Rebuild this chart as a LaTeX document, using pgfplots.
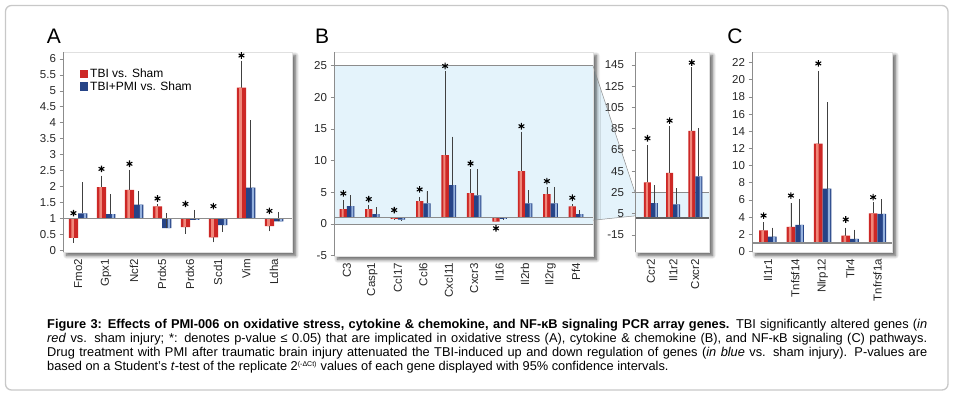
\documentclass[border=0pt]{standalone}
\usepackage{pgfplots}
\pgfplotsset{compat=1.18}
\usepackage{pgfplotstable}
\usepackage{fontspec}
\setmainfont{Liberation Sans}
\usetikzlibrary{shadows.blur}
\pgfdeclarelayer{bg}
\pgfsetlayers{bg,main}

\definecolor{redbar}{RGB}{205,40,38}
\definecolor{redhi}{RGB}{240,135,122}
\definecolor{bluebar}{RGB}{38,68,135}
\definecolor{bluehi}{RGB}{150,178,222}
\definecolor{zoomblue}{RGB}{228,243,251}
\definecolor{axgray}{RGB}{140,140,140}
\definecolor{framegray}{RGB}{200,200,200}

% x = category, r/b = fold change (red: TBI vs Sham, blue: TBI+PMI vs Sham)
% rp/rm, bp/bm = confidence-interval line above/below the bar end, s = asterisk height
\pgfplotstableread{
x r rp rm b bp bm s
0 0.38 0    0.15 1.15 0.98 0    1.16
1 1.98 0.36 0    1.13 0.63 0    2.55
2 1.89 0.64 0    1.43 0.43 0    2.71
3 1.37 0.08 0    0.69 0.46 0    1.62
4 0.72 0    0.20 0.95 0.31 0    1.45
5 0.40 0    0.16 0.78 0    0.20 1.38
6 5.10 0.85 0    1.96 2.11 0    6.11
7 0.75 0    0.16 0.90 0.30 0    1.23
}\dataA

\pgfplotstableread{
x r rp rm b bp bm s
0 2.36 1.42 0    2.84 1.73 0    4.83
1 2.36 0.64 0    1.58 1.05 0    3.94
2 0.80 0    0.10 0.68 0    0.12 2.20
3 3.62 0.63 0    3.26 1.89 0    5.46
4 10.87 13.29 0  6.14 7.66 0    24.95
5 4.88 3.79 0    4.52 4.15 0    9.56
6 0.37 0    0    0.80 0    0.05 -0.68
7 8.35 6.25 0    3.26 2.10 0    15.44
8 4.73 1.10 0    3.26 2.62 0    6.78
9 2.78 0.37 0    1.58 0.62 0    4.15
}\dataB

\pgfplotstableread{
x r rp rm b bp bm s
0 34.6 35.1 0 15.1 16.6 0 76
1 43.4 44.2 0 13.9 15.3 0 92.6
2 82.9 59.9 0 40.2 45.5 0 147.2
}\dataI

\pgfplotstableread{
x r rp rm b bp bm s
0 2.48 0.93 0 1.75 1.04 0 4.19
1 2.87 2.80 0 3.10 3.03 0 6.52
2 12.57 8.46 0 7.33 10.05 0 21.9
3 1.86 0.93 0 1.47 1.09 0 3.73
4 4.46 1.28 0 4.38 1.71 0 6.33
}\dataC

\tikzset{
  basel/.style={axgray, line width=1.3pt},
  boxshadow/.style={fill=white, draw=black!12, line width=0.5pt,
    blur shadow={shadow xshift=3.5pt, shadow yshift=-3.5pt, shadow blur radius=3.5pt,
      shadow blur steps=8, shadow opacity=65}},
}

\pgfplotsset{
  panel/.style={
    scale only axis, anchor=north west,
    axis lines*=left, axis on top,
    x axis line style={draw=none},
    y axis line style={axgray, line width=0.7pt, -},
    tick align=outside, major tick length=3.5pt,
    ytick style={axgray, line width=0.7pt},
    xtick style={draw=none},
    /pgf/number format/assume math mode=true,
    ticklabel style={font=\fontsize{11.5}{12}\selectfont, text=black!85},
    xticklabel style={rotate=90, anchor=east},
    y filter/.expression={y-1},
    yticklabel={\pgfmathparse{\tick+1}\pgfmathprintnumber{\pgfmathresult}},
    clip=false,
  },
  errs/.style={error bars/.cd, y dir=both, y explicit, error mark=none,
    error bar style={black!75, line width=0.7pt, xshift=#1}},
}

% #1 table  #2 bar width  #3 half width  #4 red stripe width  #5 red stripe shift  #6 blue stripe width  #7 blue stripe shift
\newcommand{\barpair}[7]{%
  \addplot[ybar, bar width=#2pt, bar shift=-#3pt, fill=redbar, draw=none, errs=-#3pt]
    table[x=x, y=r, y error plus=rp, y error minus=rm] {#1};
  \addplot[ybar, bar width=#2pt, bar shift=#3pt, fill=bluebar, draw=none, errs=#3pt]
    table[x=x, y=b, y error plus=bp, y error minus=bm] {#1};
  \addplot[ybar, forget plot, bar width=#4pt, bar shift=#5pt, fill=redhi, draw=none] table[x=x, y=r] {#1};
  \addplot[ybar, forget plot, bar width=#6pt, bar shift=#7pt, fill=bluehi, draw=none] table[x=x, y=b] {#1};
  \addplot[only marks, forget plot, mark=asterisk, mark size=3.3pt,
    mark options={black, line width=1.1pt, xshift=-#3pt}] table[x=x, y=s] {#1};
}

\begin{document}
\begin{tikzpicture}
\path[use as bounding box] (0,0) rectangle (958pt,-396pt);
\draw[framegray, line width=1.3pt, rounded corners=6pt] (5.5pt,-5.5pt) rectangle (948pt,-390pt);

% ---------------- A
\begin{axis}[panel, at={(63pt,-52pt)}, width=229pt, height=200pt,
  xmin=-0.54, xmax=7.64, ymin=-1.06, ymax=5.22,
  ytick={-1,-0.5,...,5}, xtick={0,...,7},
  xticklabels={Fmo2,Gpx1,Ncf2,Prdx5,Prdx6,Scd1,Vim,Ldha},
  legend style={at={(0.07,0.93)}, anchor=north west, draw=none, fill=none,
    font=\fontsize{12}{12}\selectfont, row sep=-1.5pt, inner sep=1pt},
  legend cell align=left,
  legend image code/.code={\fill[#1] (0pt,-4pt) rectangle (8pt,4.5pt);}]
\path[boxshadow] (rel axis cs:0,0) rectangle (rel axis cs:1,1);
\barpair{\dataA}{9.3}{4.65}{2.6}{-5.55}{2.3}{6.85}
\legend{TBI vs. Sham, TBI+PMI vs. Sham}
\draw[basel] ({rel axis cs:0,0} |- {axis cs:0,0}) -- ({rel axis cs:1,0} |- {axis cs:0,0});
\end{axis}

% ---------------- B
\begin{axis}[panel, at={(334pt,-52pt)}, width=259pt, height=204pt,
  xmin=-0.51, xmax=9.67, ymin=-6.05, ymax=26.16,
  ytick={-6,-1,...,24}, xtick={0,...,9},
  xticklabels={C3,Casp1,Ccl17,Ccl6,Cxcl11,Cxcr3,Il16,Il2rb,Il2rg,Pf4}]
\path[boxshadow] (rel axis cs:0,0) rectangle (rel axis cs:1,1);
\fill[zoomblue] ({rel axis cs:0,0} |- {axis cs:0,-1}) rectangle ({rel axis cs:1,0} |- {axis cs:0,24});
\draw[axgray, line width=0.7pt] ({rel axis cs:0,0} |- {axis cs:0,24}) -- ({rel axis cs:1,0} |- {axis cs:0,24}) coordinate (Bt);
\draw[axgray, line width=0.7pt] ({rel axis cs:0,0} |- {axis cs:0,-1}) -- ({rel axis cs:1,0} |- {axis cs:0,-1});
\coordinate (Bb) at ({rel axis cs:1,0} |- {axis cs:0,-0.4});
\barpair{\dataB}{7.3}{3.65}{2.1}{-4.35}{1.8}{5.4}
\draw[basel] ({rel axis cs:0,0} |- {axis cs:0,0}) -- ({rel axis cs:1,0} |- {axis cs:0,0});
\end{axis}

% ---------------- B inset
\begin{axis}[panel, at={(635pt,-52pt)}, width=74pt, height=200pt,
  xmin=-0.72, xmax=2.62, ymin=-32, ymax=156.2,
  ytick={-16,4,...,144}, xtick={0,1,2},
  xticklabels={Ccr2,Il1r2,Cxcr2},
  yticklabel style={xshift=-4pt}]
\path[boxshadow] (rel axis cs:0,0) rectangle (rel axis cs:1,1);
\fill[zoomblue] ({rel axis cs:0,0} |- {axis cs:0,0}) rectangle ({rel axis cs:1,0} |- {axis cs:0,24});
\draw[axgray, line width=0.7pt] ({rel axis cs:0,0} |- {axis cs:0,24}) coordinate (It) -- ({rel axis cs:1,0} |- {axis cs:0,24});
\coordinate (Ib) at ({rel axis cs:0,0} |- {axis cs:0,2});
\barpair{\dataI}{7}{3.5}{2.0}{-4.2}{1.8}{5.2}
\draw[axgray!70!black, line width=1.3pt] ({rel axis cs:0,0} |- {axis cs:0,0}) -- ({rel axis cs:1,0} |- {axis cs:0,0});
\end{axis}

% ---------------- C
\begin{axis}[panel, at={(752pt,-52pt)}, width=140pt, height=200pt,
  xmin=-0.58, xmax=4.53, ymin=-1.05, ymax=22.23,
  ytick={-1,1,...,21}, xtick={0,...,4},
  xticklabels={Il1r1,Tnfsf14,Nlrp12,Tlr4,Tnfrsf1a}]
\path[boxshadow] (rel axis cs:0,0) rectangle (rel axis cs:1,1);
\barpair{\dataC}{8.7}{4.35}{2.5}{-5.2}{2.2}{6.4}
\draw[basel] ({rel axis cs:0,0} |- {axis cs:0,0}) -- ({rel axis cs:1,0} |- {axis cs:0,0});
\end{axis}

\begin{pgfonlayer}{bg}
\fill[zoomblue] (Bt) -- (It) -- (Ib) -- (Bb) -- cycle;
\end{pgfonlayer}
\draw[axgray, line width=0.5pt] (Bt) -- (It) (Bb) -- (Ib);

\node[font=\fontsize{21}{21}\selectfont, anchor=base] at (54pt,-44pt) {A};
\node[font=\fontsize{21}{21}\selectfont, anchor=base] at (322pt,-44pt) {B};
\node[font=\fontsize{21}{21}\selectfont, anchor=base] at (735pt,-44pt) {C};

\node[anchor=north west, inner sep=0pt, text width=880pt, align=justify,
  font=\fontsize{12.8}{14}\selectfont] at (47pt,-319pt) {%
\textbf{Figure 3: Effects of PMI-006 on oxidative stress, cytokine \& chemokine, and NF-κB signaling PCR array genes.} TBI significantly altered genes (\textit{in}\linebreak
\textit{red} vs. sham injury; *: denotes p-value ≤ 0.05) that are implicated in oxidative stress (A), cytokine \& chemokine (B), and NF-κB signaling (C) pathways.\linebreak
Drug treatment with PMI after traumatic brain injury attenuated the TBI-induced up and down regulation of genes (\textit{in blue} vs. sham injury). P-values are\linebreak
based on a Student’s \textit{t}-test of the replicate 2\textsuperscript{\fontsize{7}{7}\selectfont(-ΔCt)} values of each gene displayed with 95\% confidence intervals.};
\end{tikzpicture}
\end{document}
